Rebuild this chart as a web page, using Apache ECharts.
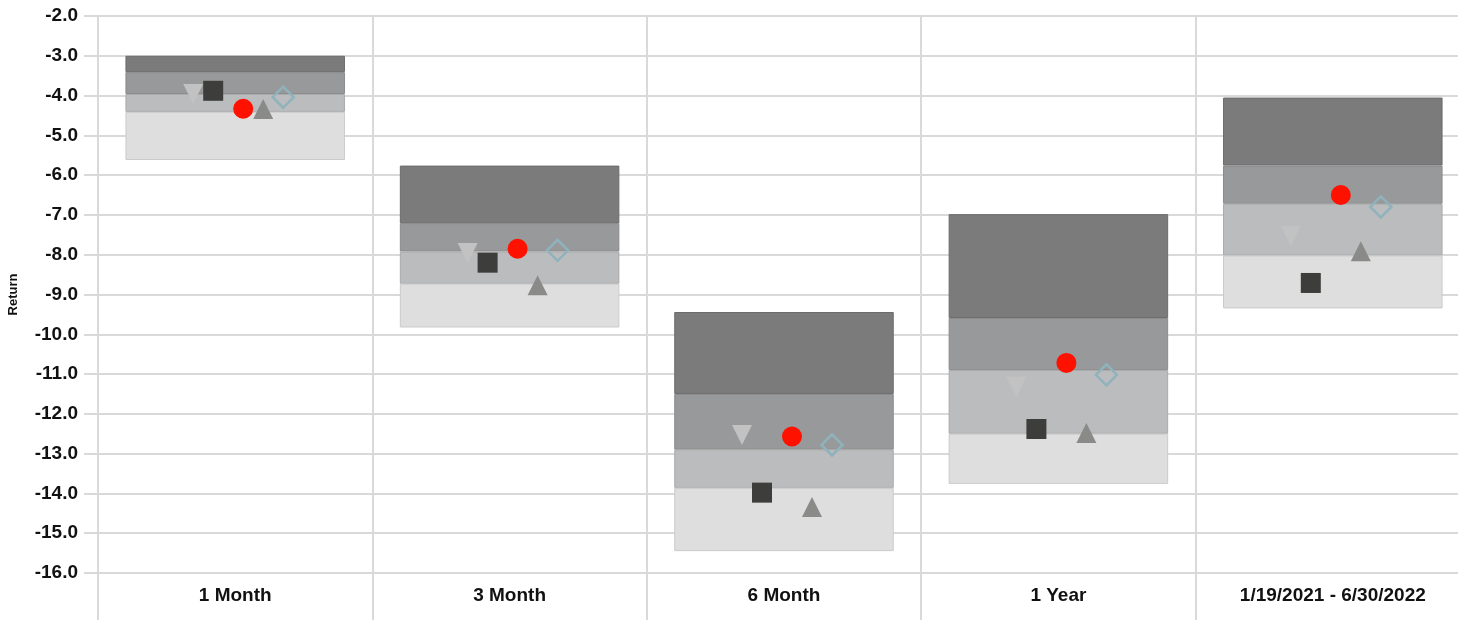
<!DOCTYPE html>
<html>
<head>
<meta charset="utf-8">
<script src="https://cdn.jsdelivr.net/npm/echarts@6/dist/echarts.min.js"></script>
<style>
html,body{margin:0;padding:0;background:#fff;}
#chart{width:1458px;height:620px;}
</style>
</head>
<body>
<div id="chart"></div>
<script>
const categories = ['1 Month', '3 Month', '6 Month', '1 Year', '1/19/2021 - 6/30/2022'];
const yTicks = { min: -16, max: -2, interval: 1 };

// Percentile band boundaries (top to bottom)
const pct5  = [-3.00, -5.76, -9.44, -6.98, -4.05];
const pct25 = [-3.41, -7.22, -11.50, -9.59, -5.76];
const pct50 = [-3.96, -7.92, -12.90, -10.90, -6.72];
const pct75 = [-4.41, -8.73, -13.86, -12.50, -8.02];
const pct95 = [-5.62, -9.83, -15.45, -13.76, -9.35];

// Marker series
const downTriangle = [-3.96, -7.96, -12.53, -11.32, -7.53];
const squareVals   = [-3.88, -8.20, -13.98, -12.38, -8.71];
const redCircle    = [-4.33, -7.85, -12.57, -10.72, -6.50];
const upTriangle   = [-4.34, -8.77, -14.34, -12.48, -7.91];
const diamondVals  = [-4.04, -7.89, -12.78, -11.02, -6.80];

// font detection: prefer a narrow bold face if installed
function hasFont(name) {
  const c = document.createElement('canvas').getContext('2d');
  c.font = 'bold 40px monospace';
  const w0 = c.measureText('-16.0 1 Month Wi').width;
  c.font = 'bold 40px "' + name + '", monospace';
  return c.measureText('-16.0 1 Month Wi').width !== w0;
}
let FONT, LABEL_SIZE;
if (hasFont('Liberation Sans Narrow')) { FONT = '"Liberation Sans Narrow"'; LABEL_SIZE = 22; }
else { FONT = '"Liberation Sans", Arial, sans-serif'; LABEL_SIZE = 19; }

const diff = (a, b) => a.map((v, i) => +(b[i] - v).toFixed(4));

const bandStyles = [
  { color: '#7b7b7c', border: '#6c6c6d' },
  { color: '#98999a', border: '#8a8a8b' },
  { color: '#bbbcbd', border: '#a9aaab' },
  { color: '#dedede', border: '#cbcbcb' }
];
const bandData = [diff(pct5, pct25), diff(pct25, pct50), diff(pct50, pct75), diff(pct75, pct95)];

const series = [{
  name: 'base', type: 'bar', stack: 'band', barWidth: '80%', silent: true,
  itemStyle: { color: 'transparent' }, data: pct5
}];
bandData.forEach((d, i) => {
  series.push({
    name: 'band' + i, type: 'bar', stack: 'band', barWidth: '80%',
    itemStyle: { color: bandStyles[i].color, borderColor: bandStyles[i].border, borderWidth: 1 },
    data: d
  });
});

function marker(name, data, symbol, size, offset, style, rotate) {
  return {
    name, type: 'scatter', data, symbol, symbolSize: size,
    symbolOffset: [offset, 0], symbolRotate: rotate || 0, z: 5,
    itemStyle: Object.assign({ opacity: 1 }, style)
  };
}
series.push(marker('Down', downTriangle, 'triangle', 20, -42, { color: '#c2c2c2' }, 180));
series.push(marker('Square', squareVals, 'rect', 20, -22, { color: '#3d3d3b' }));
series.push(marker('Circle', redCircle, 'circle', 20, 8, { color: '#ff1100' }));
series.push(marker('Up', upTriangle, 'triangle', 20, 28, { color: '#8a8a89' }));
series.push(marker('Diamond', diamondVals, 'diamond', 21, 48, { color: 'rgba(0,0,0,0)', borderColor: '#8fb3bd', borderWidth: 2.5 }));

const chart = echarts.init(document.getElementById('chart'), null, { renderer: 'canvas' });
chart.setOption({
  animation: false,
  backgroundColor: '#fff',
  grid: { left: 98, right: -12, top: 16, bottom: 47, containLabel: false, outerBoundsMode: 'none' },
  xAxis: {
    type: 'category', data: categories, boundaryGap: true,
    axisLine: { show: false },
    axisTick: { show: true, interval: 0, length: 47, lineStyle: { color: '#d9d9d9', width: 2 } },
    splitLine: { show: true, interval: 0, lineStyle: { color: '#d9d9d9', width: 2 } },
    axisLabel: { interval: 0, fontFamily: FONT, fontWeight: 'bold', fontSize: LABEL_SIZE, color: '#111', margin: 13 }
  },
  yAxis: {
    type: 'value', min: yTicks.min, max: yTicks.max, interval: yTicks.interval,
    name: 'Return', nameLocation: 'middle', nameGap: 78, nameRotate: 90,
    nameTextStyle: { fontFamily: FONT, fontWeight: 'bold', fontSize: 13, color: '#111' },
    axisLine: { show: false },
    axisTick: { show: true, length: 14, lineStyle: { color: '#d9d9d9', width: 2 } },
    splitLine: { show: true, lineStyle: { color: '#d9d9d9', width: 2 } },
    axisLabel: { fontFamily: FONT, fontWeight: 'bold', fontSize: LABEL_SIZE, color: '#111', margin: 20,
      formatter: v => v.toFixed(1) }
  },
  series
});
</script>
</body>
</html>
